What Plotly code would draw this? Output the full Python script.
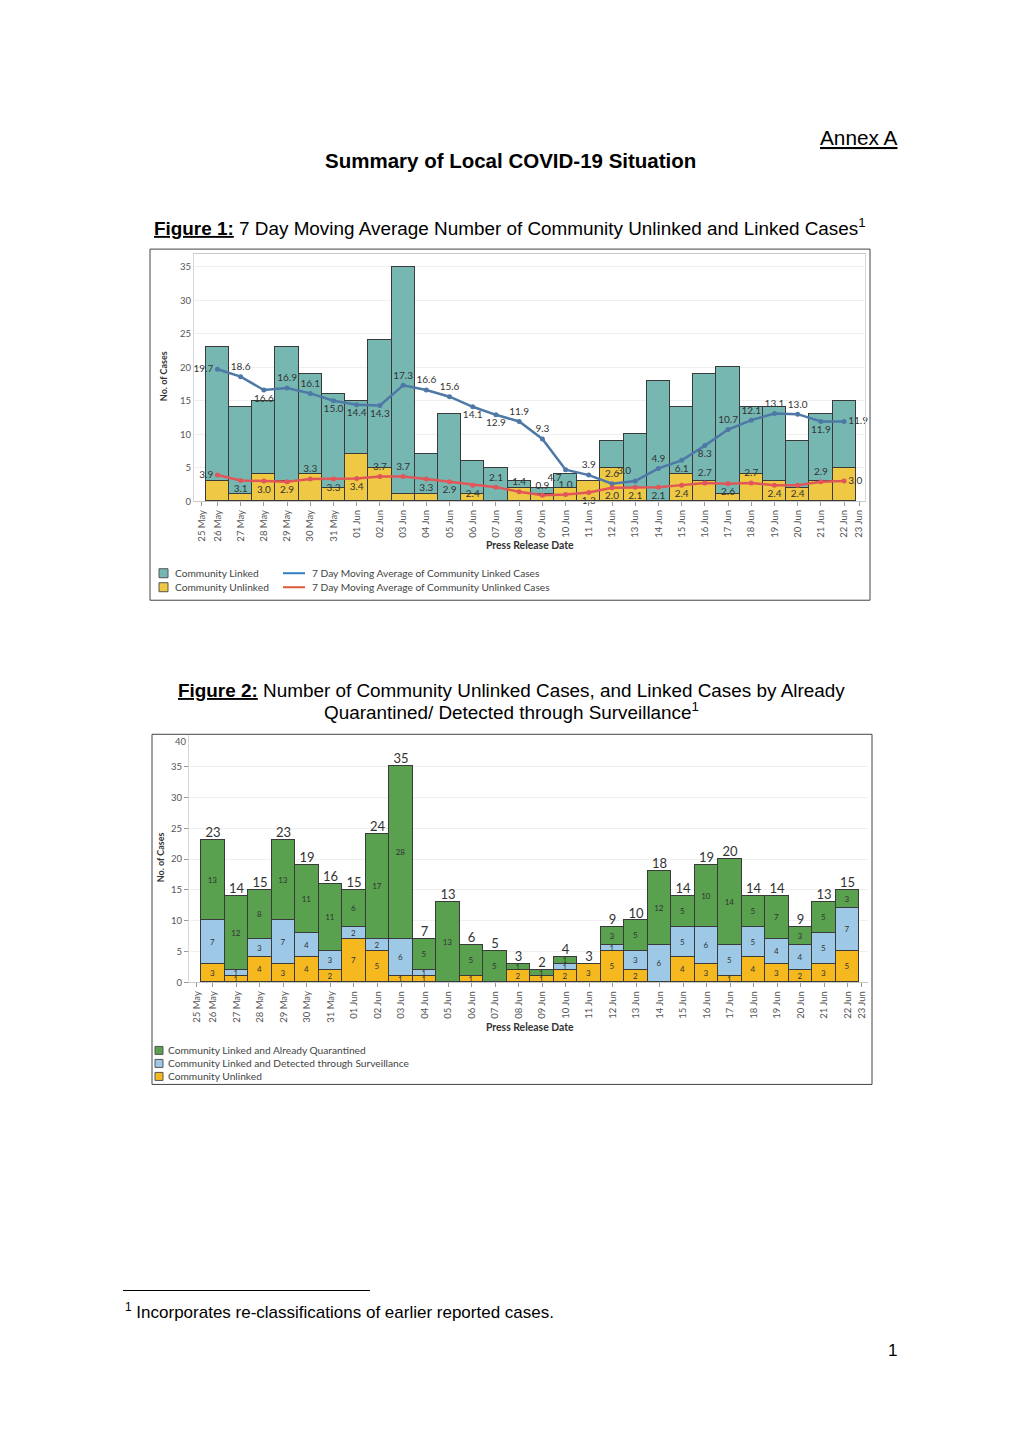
import plotly.graph_objects as go

# ---------------- data ----------------
dates = ["26 May", "27 May", "28 May", "29 May", "30 May", "31 May", "01 Jun",
         "02 Jun", "03 Jun", "04 Jun", "05 Jun", "06 Jun", "07 Jun", "08 Jun",
         "09 Jun", "10 Jun", "11 Jun", "12 Jun", "13 Jun", "14 Jun", "15 Jun",
         "16 Jun", "17 Jun", "18 Jun", "19 Jun", "20 Jun", "21 Jun", "22 Jun"]
edge_labels = ["25 May", "23 Jun"]

unlinked = [3, 1, 4, 3, 4, 2, 7, 5, 1, 1, 0, 1, 0, 2, 1, 2, 3, 5, 2, 0, 4, 3, 1, 4, 3, 2, 3, 5]
surveillance = [7, 1, 3, 7, 4, 3, 2, 2, 6, 1, 0, 0, 0, 0, 0, 1, 0, 1, 3, 6, 5, 6, 5, 5, 4, 4, 5, 7]
quarantined = [13, 12, 8, 13, 11, 11, 6, 17, 28, 5, 13, 5, 5, 1, 1, 1, 0, 3, 5, 12, 5, 10, 14, 5, 7, 3, 5, 3]

ma_linked = [19.7, 18.6, 16.6, 16.9, 16.1, 15.0, 14.4, 14.3, 17.3, 16.6, 15.6, 14.1, 12.9, 11.9,
             9.3, 4.7, 3.9, 2.6, 3.0, 4.9, 6.1, 8.3, 10.7, 12.1, 13.1, 13.0, 11.9, 11.9]
ma_unlinked = [3.9, 3.1, 3.0, 2.9, 3.3, 3.3, 3.4, 3.7, 3.7, 3.3, 2.9, 2.4, 2.1, 1.4,
               0.9, 1.0, 1.3, 2.0, 2.1, 2.1, 2.4, 2.7, 2.6, 2.7, 2.4, 2.4, 2.9, 3.0]

linked = [q + s for q, s in zip(quarantined, surveillance)]
totals = [q + s + u for q, s, u in zip(quarantined, surveillance, unlinked)]
xs = list(range(len(dates)))

# ---------------- page geometry (browser body has an 8px margin) ----------------
OFF = 8
W, H = 1020 - 2 * OFF, 1442 - 2 * OFF
KY = 0.9961  # small vertical correction observed in rendering
def fx(p):
    return (p - OFF) / W
def fy(p):
    return 1 - ((p - OFF) / KY) / H

CH_FONT = "Lato, 'Open Sans', sans-serif"
DOC_FONT = "'Liberation Sans', Arial, sans-serif"
TEAL, YEL1 = "#76b7b2", "#efc944"
BLUE, RED = "#4e79a7", "#e15759"
GREEN, LBLUE, YEL2 = "#59a14f", "#9ec9e6", "#f6b81f"
OUT = "#3a3a3a"

pos_linked = ["middle left", "top center", "bottom center", "top center", "top center",
              "bottom center", "bottom center", "bottom center", "top center", "top center",
              "top center", "bottom center", "bottom center", "top center", "top center",
              "bottom left", "top center", "top center", "top left", "top center",
              "bottom center", "bottom center", "top center", "top center", "top center",
              "top center", "bottom center", "middle right"]
pos_unlinked = ["middle left", "bottom center", "bottom center", "bottom center", "top center",
                "bottom center", "bottom center", "top center", "top center", "bottom center",
                "bottom center", "bottom center", "top center", "top center", "top center",
                "top center", "bottom center", "bottom center", "bottom center", "bottom center",
                "bottom center", "top center", "bottom center", "top center", "bottom center",
                "bottom center", "top center", "middle right"]

fig = go.Figure()

# ---------------- Figure 1 ----------------
fig.add_trace(go.Bar(x=xs, y=unlinked, width=1, marker=dict(color=YEL1, line=dict(color=OUT, width=1)),
                     name="Community Unlinked", xaxis="x", yaxis="y", hoverinfo="skip"))
fig.add_trace(go.Bar(x=xs, y=linked, width=1, marker=dict(color=TEAL, line=dict(color=OUT, width=1)),
                     name="Community Linked", xaxis="x", yaxis="y", hoverinfo="skip"))
fig.add_trace(go.Scatter(x=xs, y=ma_linked, mode="lines+markers+text", cliponaxis=False,
                         line=dict(color=BLUE, width=2.5), marker=dict(size=5, color=BLUE),
                         text=[f"{v:.1f}" for v in ma_linked], textposition=pos_linked,
                         textfont=dict(family=CH_FONT, size=10, color="#333"),
                         name="7 Day Moving Average of Community Linked Cases", xaxis="x", yaxis="y"))
fig.add_trace(go.Scatter(x=xs, y=ma_unlinked, mode="lines+markers+text", cliponaxis=False,
                         line=dict(color=RED, width=2.5), marker=dict(size=5, color=RED),
                         text=[f"{v:.1f}" for v in ma_unlinked], textposition=pos_unlinked,
                         textfont=dict(family=CH_FONT, size=10, color="#333"),
                         name="7 Day Moving Average of Community Unlinked Cases", xaxis="x", yaxis="y"))

# ---------------- Figure 2 ----------------
for vals, col, nm in [(unlinked, YEL2, "Community Unlinked"),
                      (surveillance, LBLUE, "Community Linked and Detected through Surveillance"),
                      (quarantined, GREEN, "Community Linked and Already Quarantined")]:
    fig.add_trace(go.Bar(x=xs, y=vals, width=1, marker=dict(color=col, line=dict(color=OUT, width=1)),
                         text=[str(v) if v else "" for v in vals], textposition="inside",
                         insidetextanchor="middle", textangle=0,
                         textfont=dict(family=CH_FONT, size=8, color="#333"),
                         name=nm, xaxis="x2", yaxis="y2", hoverinfo="skip"))
fig.add_trace(go.Scatter(x=xs, y=totals, mode="text", text=[str(t) for t in totals],
                         textposition="top center", cliponaxis=False,
                         textfont=dict(family=CH_FONT, size=13, color="#333"),
                         xaxis="x2", yaxis="y2", hoverinfo="skip"))

tickvals1 = [-0.68] + xs + [xs[-1] + 0.65]
ticktext = [edge_labels[0]] + dates + [edge_labels[1]]
tickvals2 = [-0.7] + xs + [xs[-1] + 0.6]

tickfont = dict(family=CH_FONT, size=9.5, color="#555")
xcommon = dict(tickangle=-90, ticks="outside", ticklen=4, tickcolor="#999", showgrid=False,
               zeroline=False, showline=True, linecolor="#c8c8c8", tickfont=tickfont,
               ticktext=ticktext, tickmode="array")
ycommon = dict(showgrid=True, gridcolor="#efefef", zeroline=False, showline=True,
               linecolor="#d8d8d8", tickfont=tickfont, tickmode="array")

fig.update_layout(
    width=W, height=H, margin=dict(l=0, r=0, t=0, b=0),
    paper_bgcolor="white", plot_bgcolor="white",
    barmode="stack", bargap=0, showlegend=False,
    uniformtext=dict(minsize=8, mode="show"),
    xaxis=dict(domain=[fx(194), fx(865)], range=[-1.01, 27.9], tickvals=tickvals1,
               anchor="y", mirror=True, **xcommon),
    yaxis=dict(domain=[fy(501), fy(254)], range=[0, 36.9], tickvals=list(range(0, 36, 5)),
               anchor="x", mirror=True, ticks="", **ycommon),
    xaxis2=dict(domain=[fx(189), fx(868)], range=[-1.02, 27.87], tickvals=tickvals2,
                anchor="y2", **xcommon),
    yaxis2=dict(domain=[fy(982), fy(735)], range=[0, 40.1], tickvals=list(range(0, 36, 5)),
                anchor="x2", ticks="outside", ticklen=4, tickcolor="#999", **ycommon),
)

ann = []
shapes = []

def text(x, y, s, size, family=DOC_FONT, xanchor="center", color="black", angle=0):
    ann.append(dict(x=fx(x), y=fy(y), xref="paper", yref="paper", text=s, showarrow=False,
                    xanchor=xanchor, yanchor="middle", textangle=angle,
                    font=dict(family=family, size=size, color=color)))

# document text
text(900, 137, "<u>Annex A</u>", 20.8, xanchor="right")
text(510, 160, "<b>Summary of Local COVID-19 Situation</b>", 20.5)
text(510, 227, "<b><u>Figure 1:</u></b> 7 Day Moving Average Number of Community Unlinked and Linked Cases<sup>1</sup>", 18.9)
text(511, 690, "<b><u>Figure 2:</u></b> Number of Community Unlinked Cases, and Linked Cases by Already", 18.9)
text(511, 711, "Quarantined/ Detected through Surveillance<sup>1</sup>", 18.9)
text(123, 1310, "<sup>1</sup> Incorporates re-classifications of earlier reported cases.", 17, xanchor="left")
text(899, 1350, "1", 17, xanchor="right")
shapes.append(dict(type="line", xref="paper", yref="paper", x0=fx(123), x1=fx(370),
                   y0=fy(1290), y1=fy(1290), line=dict(color="black", width=1)))

# chart frames
for (x0, y0, x1, y1) in [(150, 249, 870, 600), (152, 734, 872, 1084)]:
    shapes.append(dict(type="rect", xref="paper", yref="paper", x0=fx(x0), x1=fx(x1),
                       y0=fy(y1), y1=fy(y0), line=dict(color="#444", width=1)))

# top tick label of figure 2 (kept inside the view like the original)
text(181, 741, "40", 9.5, family=CH_FONT, color="#555")

# axis titles
text(163, 376, "<b>No. of Cases</b>", 9, family=CH_FONT, color="#333", angle=-90)
text(530, 545, "<b>Press Release Date</b>", 10.4, family=CH_FONT, color="#333")
text(160, 857, "<b>No. of Cases</b>", 9, family=CH_FONT, color="#333", angle=-90)
text(530, 1027, "<b>Press Release Date</b>", 10.4, family=CH_FONT, color="#333")

# legends (drawn manually)
def sq(x, y, col, s=9):
    shapes.append(dict(type="rect", xref="paper", yref="paper", x0=fx(x), x1=fx(x + s),
                       y0=fy(y + s / 2), y1=fy(y - s / 2), fillcolor=col,
                       line=dict(color="#555", width=1)))
def ln(x, y, col):
    shapes.append(dict(type="line", xref="paper", yref="paper", x0=fx(x), x1=fx(x + 22),
                       y0=fy(y), y1=fy(y), line=dict(color=col, width=2)))

legfont = 10.2
sq(159, 573, TEAL); text(173, 573, "Community Linked", legfont, family=CH_FONT, xanchor="left", color="#444")
sq(159, 587, YEL1); text(173, 587, "Community Unlinked", legfont, family=CH_FONT, xanchor="left", color="#444")
ln(283, 573, "#2f7fc0"); text(310, 573, "7 Day Moving Average of Community Linked Cases", legfont, family=CH_FONT, xanchor="left", color="#444")
ln(283, 587, "#e0583a"); text(310, 587, "7 Day Moving Average of Community Unlinked Cases", legfont, family=CH_FONT, xanchor="left", color="#444")

sq(155, 1050, GREEN, 8); text(166, 1050, "Community Linked and Already Quarantined", legfont, family=CH_FONT, xanchor="left", color="#444")
sq(155, 1063, LBLUE, 8); text(166, 1063, "Community Linked and Detected through Surveillance", legfont, family=CH_FONT, xanchor="left", color="#444")
sq(155, 1076, YEL2, 8); text(166, 1076, "Community Unlinked", legfont, family=CH_FONT, xanchor="left", color="#444")

fig.update_layout(annotations=ann, shapes=shapes)
fig.write_html("out.html")
